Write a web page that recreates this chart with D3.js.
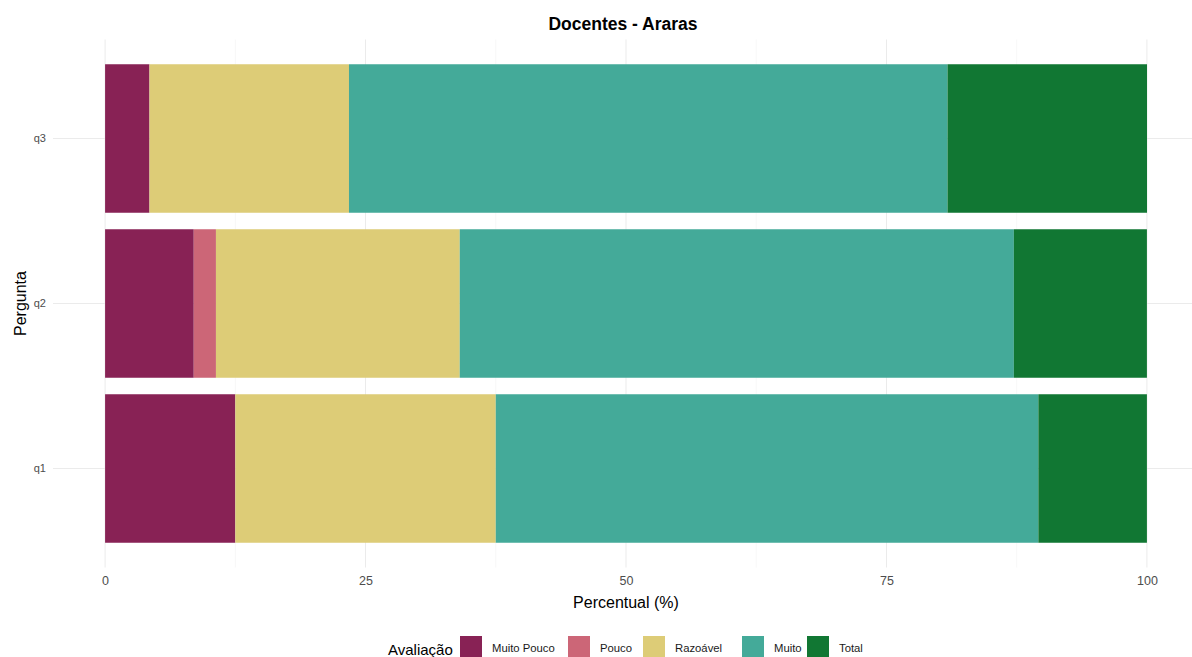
<!DOCTYPE html>
<html><head><meta charset="utf-8">
<script src="https://cdn.jsdelivr.net/npm/d3@7"></script>
<style>body{margin:0;background:#fff}svg{display:block;font-family:"Liberation Sans",Arial,sans-serif}</style>
</head><body><svg id="c" width="1192" height="657"></svg>
<script>
const questions = ["q1","q2","q3"];
const categories = ["Muito Pouco","Pouco","Razoável","Muito","Total"];
const colors = ["#882255","#CC6677","#DDCC77","#44AA99","#117733"];
const muitoPouco = [12.50, 8.51, 4.26];
const pouco      = [0.00, 2.13, 0.00];
const razoavel   = [25.00, 23.40, 19.15];
const muito      = [52.08, 53.19, 57.45];
const total      = [10.42, 12.77, 19.15];
const xTicks = [0,25,50,75,100];
const xMinor = [12.5,37.5,62.5,87.5];

const series = [muitoPouco, pouco, razoavel, muito, total];
const rows = questions.map((q,i)=>{const o={q}; categories.forEach((c,j)=>o[c]=series[j][i]); return o;});
const stack = d3.stack().keys(categories)(rows);

const svg = d3.select("#c");
const L=53, R=1199, T=39.5, B=567.5;
const x = d3.scaleLinear().domain([-5,105]).range([L,R]);
const y = d3.scaleBand().domain(["q3","q2","q1"]).range([T,B]).paddingInner(0.1).paddingOuter(0.15);
const color = d3.scaleOrdinal().domain(categories).range(colors);

const g = svg.append("g");
// grid
g.selectAll(".minor").data(xMinor).join("line").attr("x1",d=>x(d)).attr("x2",d=>x(d)).attr("y1",T).attr("y2",B).attr("stroke","#f2f2f2").attr("stroke-width",0.6);
g.selectAll(".major").data(xTicks).join("line").attr("x1",d=>x(d)).attr("x2",d=>x(d)).attr("y1",T).attr("y2",B).attr("stroke","#ebebeb").attr("stroke-width",1);
g.selectAll(".ymaj").data(questions).join("line").attr("x1",L).attr("x2",R).attr("y1",d=>y(d)+y.bandwidth()/2).attr("y2",d=>y(d)+y.bandwidth()/2).attr("stroke","#ebebeb").attr("stroke-width",1);

// bars
stack.forEach(s=>{
  g.append("g").attr("fill",color(s.key)).selectAll("rect").data(s).join("rect")
   .attr("x",d=>x(d[0])).attr("width",d=>Math.max(0,x(d[1])-x(d[0])))
   .attr("y",d=>y(d.data.q)).attr("height",y.bandwidth());
});

// axes
const xa = svg.append("g").attr("transform",`translate(0,${B})`).call(d3.axisBottom(x).tickValues(xTicks).tickSize(0).tickPadding(9));
xa.select(".domain").remove();
xa.selectAll("text").attr("fill","#4d4d4d").style("font-size","12.5px");
const ya = svg.append("g").attr("transform",`translate(${L},0)`).call(d3.axisLeft(y).tickSize(0).tickPadding(7));
ya.select(".domain").remove();
ya.selectAll("text").attr("fill","#4d4d4d").style("font-size","11px");

svg.append("text").attr("x",623).attr("y",30).attr("text-anchor","middle").style("font-size","17.5px").style("font-weight","bold").text("Docentes - Araras");
svg.append("text").attr("x",626).attr("y",608).attr("text-anchor","middle").style("font-size","16px").text("Percentual (%)");
svg.append("text").attr("transform","translate(26,303.5) rotate(-90)").attr("text-anchor","middle").style("font-size","16px").text("Pergunta");

// legend
const lg = svg.append("g");
lg.append("text").attr("x",388).attr("y",655).style("font-size","15px").text("Avaliação");
const keyX = [460,568,643,742,807];
categories.forEach((c,i)=>{
  lg.append("rect").attr("x",keyX[i]).attr("y",636).attr("width",22).attr("height",22).attr("fill",colors[i]);
  lg.append("text").attr("x",keyX[i]+32).attr("y",652).style("font-size","11.3px").attr("fill","#1a1a1a").text(c);
});
</script></body></html>
